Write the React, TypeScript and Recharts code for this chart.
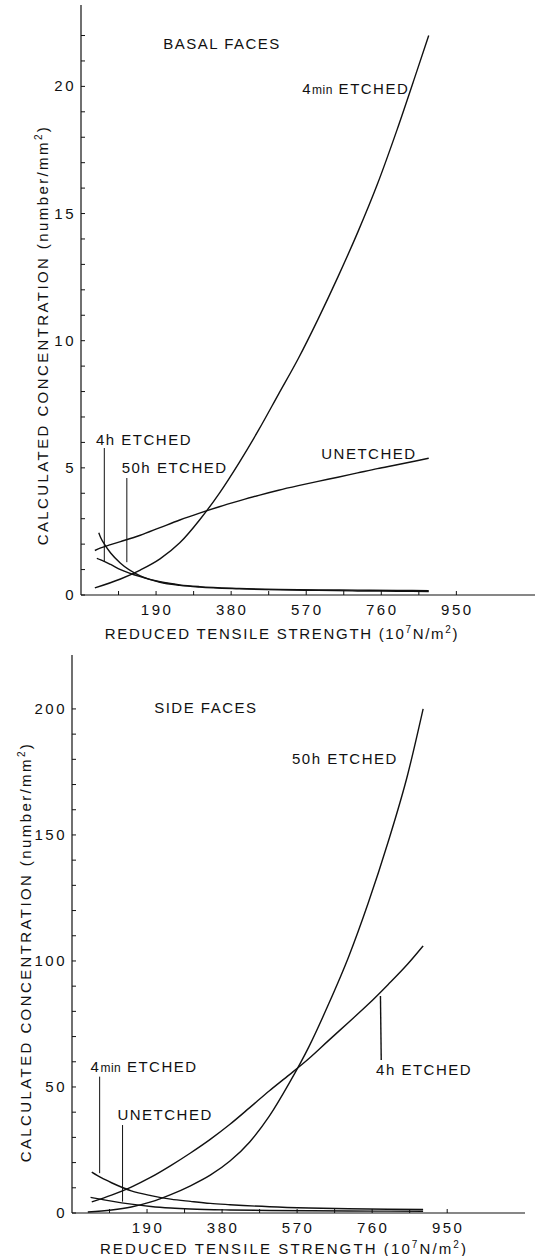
import React from 'react';
import { Line, LineChart, ReferenceDot, ReferenceLine, XAxis, YAxis } from 'recharts';

const FONT = '"Liberation Sans", Arial, sans-serif';
const INK = '#111';

// x axis: reduced tensile strength (10^7 N/m^2)
const strengthTicks = [95, 190, 285, 380, 475, 570, 665, 760, 855, 950];

// basal faces (number/mm^2)
const basalTicks = [0, 1, 2, 3, 4, 5, 6, 7, 8, 9, 10, 11, 12, 13, 14, 15, 16, 17, 18, 19, 20, 21, 22];
const basalX4min = [35, 100, 150, 200, 250, 300, 350, 400, 450, 500, 550, 600, 650, 700, 750, 800, 850, 880];
const basal4min = [0.28, 0.63, 0.98, 1.42, 2.05, 2.95, 4.0, 5.2, 6.5, 7.9, 9.3, 10.85, 12.5, 14.25, 16.15, 18.3, 20.6, 22.0];
const basalXUnetched = [35, 50, 75, 100, 150, 200, 250, 300, 350, 400, 450, 500, 550, 600, 650, 700, 750, 800, 850, 880];
const basalUnetched = [1.75, 1.85, 1.98, 2.1, 2.35, 2.65, 2.95, 3.22, 3.47, 3.7, 3.92, 4.12, 4.3, 4.47, 4.63, 4.8, 4.97, 5.12, 5.28, 5.38];
const basalX4h = [45, 50, 60, 75, 100, 150, 200, 250, 300, 400, 500, 600, 700, 800, 880];
const basal4h = [2.45, 2.25, 1.98, 1.65, 1.25, 0.75, 0.5, 0.38, 0.31, 0.24, 0.2, 0.18, 0.16, 0.15, 0.14];
const basalX50h = [40, 50, 75, 100, 150, 200, 250, 300, 400, 500, 600, 700, 800, 880];
const basal50h = [1.44, 1.38, 1.2, 1.0, 0.72, 0.52, 0.4, 0.33, 0.26, 0.22, 0.2, 0.19, 0.18, 0.17];

// side faces (number/mm^2)
const sideTicks = [0, 10, 20, 30, 40, 50, 60, 70, 80, 90, 100, 110, 120, 130, 140, 150, 160, 170, 180, 190, 200];
const sideX50h = [40, 100, 150, 200, 250, 300, 350, 400, 450, 500, 550, 600, 650, 700, 750, 800, 850, 889];
const side50h = [0.4, 1.2, 2.4, 4.4, 7.3, 10.8, 15.0, 20.6, 28.2, 38.5, 51.5, 66, 83, 101.5, 123, 147, 174, 200];
const sideX4h = [50, 100, 150, 200, 250, 300, 350, 400, 450, 500, 550, 600, 650, 700, 750, 800, 850, 889];
const side4h = [4.4, 7.1, 10.3, 14.2, 18.8, 23.8, 29.2, 35.2, 41.8, 48.5, 54.8, 61.3, 68.5, 75.6, 82.8, 90.6, 98.8, 106];
const sideX4min = [50, 75, 100, 150, 200, 250, 300, 350, 400, 500, 600, 700, 800, 889];
const side4min = [16.2, 13.9, 12.0, 8.8, 6.9, 5.5, 4.6, 3.8, 3.3, 2.5, 2.0, 1.7, 1.5, 1.4];
const sideXUnetched = [47, 75, 100, 150, 200, 250, 300, 400, 500, 600, 700, 800, 889];
const sideUnetched = [6.2, 5.4, 4.7, 3.5, 2.6, 2.0, 1.6, 1.2, 1.0, 0.9, 0.8, 0.75, 0.7];

const toPoints = (xs: number[], ys: number[]) => xs.map((x, i) => ({ x, y: ys[i] }));

const textStyle = { fontFamily: FONT, fontSize: 15, letterSpacing: 1.5, fill: INK };

function YTick({ x, y, payload, step }: any) {
  const v = payload.value;
  return (
    <g>
      <line x1={x} x2={x + 4} y1={y} y2={y} stroke={INK} strokeWidth={1} />
      {v % step === 0 && (
        <text x={x - 5} y={y} dy={5} textAnchor="end" {...textStyle} letterSpacing={2.5}>
          {v}
        </text>
      )}
    </g>
  );
}

function XTick({ x, y, payload }: any) {
  const v = payload.value;
  return (
    <g>
      <line x1={x} x2={x} y1={y} y2={y - 4} stroke={INK} strokeWidth={1} />
      {v % 190 === 0 && (
        <text x={x + 1} y={y + 20} textAnchor="middle" {...textStyle} letterSpacing={2.5}>
          {v}
        </text>
      )}
    </g>
  );
}

const note = (parts: React.ReactNode) => (props: any) => (
  <text x={props.viewBox.x} y={props.viewBox.y} dy={5} textAnchor="start" {...textStyle}>
    {parts}
  </text>
);

const xTitle = (dx: number, dy: number, spacing: number) => (props: any) => (
  <text x={props.viewBox.x + dx} y={props.viewBox.y + dy} textAnchor="middle" {...textStyle} letterSpacing={spacing}>
    REDUCED TENSILE STRENGTH (10<tspan dy={-6} fontSize={10}>7</tspan>
    <tspan dy={6}>N/m</tspan>
    <tspan dy={-6} fontSize={10}>2</tspan>
    <tspan dy={6}>)</tspan>
  </text>
);

const yTitle = (dx: number, dy: number) => (props: any) => {
  const cx = props.viewBox.x + dx;
  const cy = props.viewBox.y + dy;
  return (
    <text x={cx} y={cy} textAnchor="middle" transform={`rotate(-90 ${cx} ${cy})`} {...textStyle} letterSpacing={2.4}>
      CALCULATED CONCENTRATION (number/mm<tspan dy={-6} fontSize={10}>2</tspan>
      <tspan dy={6}>)</tspan>
    </text>
  );
};

const min4 = (
  <>
    4<tspan fontSize={12} letterSpacing={0.5}>min</tspan> ETCHED
  </>
);

const curve = (data: { x: number; y: number }[], key: string) => (
  <Line
    key={key}
    data={data}
    dataKey="y"
    type="monotone"
    stroke={INK}
    strokeWidth={1.4}
    dot={false}
    activeDot={false}
    isAnimationActive={false}
  />
);

function BasalChart() {
  return (
    <LineChart width={535} height={650} margin={{ top: 5, right: 0, left: 80, bottom: 54 }}>
      <XAxis
        type="number"
        dataKey="x"
        domain={[0, 1149]}
        ticks={strengthTicks}
        interval={0}
        height={1}
        tickSize={0}
        tickMargin={0}
        tickLine={false}
        stroke={INK}
        strokeWidth={1.2}
        tick={<XTick />}
        allowDataOverflow
        label={xTitle(201, 44, 1.7)}
      />
      <YAxis
        type="number"
        domain={[0, 23.2]}
        ticks={basalTicks}
        interval={0}
        width={1}
        tickSize={0}
        tickMargin={0}
        tickLine={false}
        stroke={INK}
        strokeWidth={1.2}
        tick={<YTick step={5} />}
        allowDataOverflow
        label={yTitle(-32, 330)}
      />
      {curve(toPoints(basalX4min, basal4min), '4min')}
      {curve(toPoints(basalXUnetched, basalUnetched), 'unetched')}
      {curve(toPoints(basalX4h, basal4h), '4h')}
      {curve(toPoints(basalX50h, basal50h), '50h')}
      <ReferenceLine segment={[{ x: 59, y: 5.78 }, { x: 59, y: 1.31 }]} stroke={INK} strokeWidth={1} ifOverflow="visible" />
      <ReferenceLine segment={[{ x: 116, y: 4.6 }, { x: 116, y: 1.29 }]} stroke={INK} strokeWidth={1} ifOverflow="visible" />
      <ReferenceDot x={208} y={21.65} r={0} fill="none" stroke="none" ifOverflow="visible" label={note('BASAL FACES')} />
      <ReferenceDot x={560} y={19.9} r={0} fill="none" stroke="none" ifOverflow="visible" label={note(min4)} />
      <ReferenceDot x={608} y={5.56} r={0} fill="none" stroke="none" ifOverflow="visible" label={note('UNETCHED')} />
      <ReferenceDot x={38} y={6.09} r={0} fill="none" stroke="none" ifOverflow="visible" label={note('4h ETCHED')} />
      <ReferenceDot x={103} y={4.99} r={0} fill="none" stroke="none" ifOverflow="visible" label={note('50h ETCHED')} />
    </LineChart>
  );
}

function SideChart() {
  return (
    <LineChart width={535} height={616} margin={{ top: 15, right: 10, left: 71, bottom: 42 }}>
      <XAxis
        type="number"
        dataKey="x"
        domain={[0, 1147]}
        ticks={strengthTicks}
        interval={0}
        height={1}
        tickSize={0}
        tickMargin={0}
        tickLine={false}
        stroke={INK}
        strokeWidth={1.2}
        tick={<XTick />}
        allowDataOverflow
        label={xTitle(212, 41, 2.1)}
      />
      <YAxis
        type="number"
        domain={[0, 221.4]}
        ticks={sideTicks}
        interval={0}
        width={1}
        tickSize={0}
        tickMargin={0}
        tickLine={false}
        stroke={INK}
        strokeWidth={1.2}
        tick={<YTick step={50} />}
        allowDataOverflow
        label={yTitle(-40, 297)}
      />
      {curve(toPoints(sideX50h, side50h), '50h')}
      {curve(toPoints(sideX4h, side4h), '4h')}
      {curve(toPoints(sideX4min, side4min), '4min')}
      {curve(toPoints(sideXUnetched, sideUnetched), 'unetched')}
      <ReferenceLine segment={[{ x: 70, y: 54.1 }, { x: 70, y: 15.8 }]} stroke={INK} strokeWidth={1} ifOverflow="visible" />
      <ReferenceLine segment={[{ x: 128, y: 34.9 }, { x: 128, y: 4.5 }]} stroke={INK} strokeWidth={1} ifOverflow="visible" />
      <ReferenceLine segment={[{ x: 781, y: 86.1 }, { x: 783, y: 60.7 }]} stroke={INK} strokeWidth={1.4} ifOverflow="visible" />
      <ReferenceDot x={208} y={200.4} r={0} fill="none" stroke="none" ifOverflow="visible" label={note('SIDE FACES')} />
      <ReferenceDot x={557} y={180} r={0} fill="none" stroke="none" ifOverflow="visible" label={note('50h ETCHED')} />
      <ReferenceDot x={770} y={56.7} r={0} fill="none" stroke="none" ifOverflow="visible" label={note('4h ETCHED')} />
      <ReferenceDot x={47} y={58} r={0} fill="none" stroke="none" ifOverflow="visible" label={note(min4)} />
      <ReferenceDot x={115} y={38.9} r={0} fill="none" stroke="none" ifOverflow="visible" label={note('UNETCHED')} />
    </LineChart>
  );
}

export default function App() {
  return (
    <div style={{ position: 'absolute', left: 0, top: 0, width: 535, height: 1256, background: '#fff' }}>
      <div style={{ position: 'absolute', left: 0, top: 0 }}>
        <BasalChart />
      </div>
      <div style={{ position: 'absolute', left: 0, top: 640 }}>
        <SideChart />
      </div>
    </div>
  );
}
